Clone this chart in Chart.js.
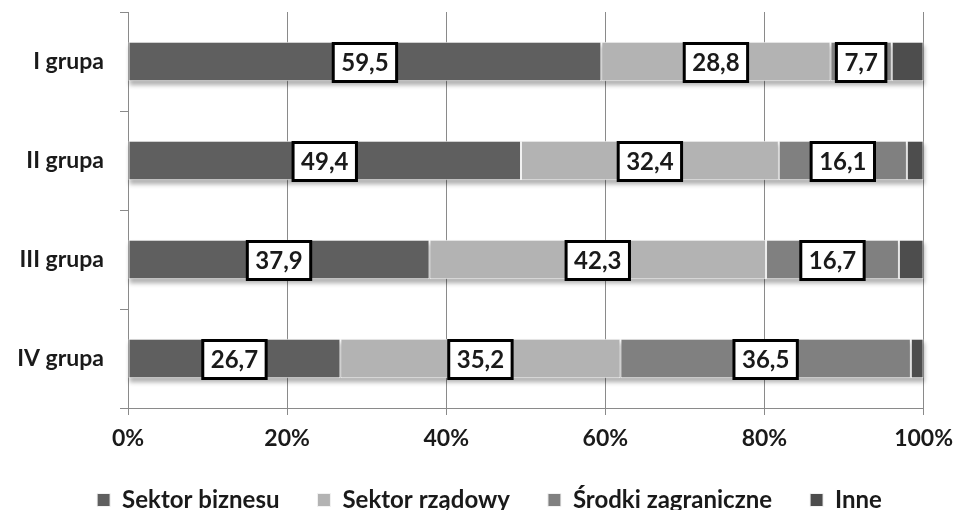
<!DOCTYPE html>
<html>
<head>
<meta charset="utf-8">
<script src="https://cdn.jsdelivr.net/npm/chart.js@4/dist/chart.umd.min.js"></script>
<style>
  html, body { margin: 0; padding: 0; background: #fff; }
  #wrap { width: 963px; height: 510px; position: relative; }
</style>
</head>
<body>
<div id="wrap"><canvas id="c"></canvas></div>
<script>
// Funding structure by group (percent shares)
const categories = ['I grupa', 'II grupa', 'III grupa', 'IV grupa'];
const seriesNames = ['Sektor biznesu', 'Sektor rządowy', 'Środki zagraniczne', 'Inne'];
const sektorBiznesu = [59.5, 49.4, 37.9, 26.7];
const sektorRzadowy = [28.8, 32.4, 42.3, 35.2];
const srodkiZagraniczne = [7.7, 16.1, 16.7, 36.5];
const inne = [4.0, 2.1, 3.1, 1.6];
const labelledSeries = [0, 1, 2];

const seriesColors = ['#5f5f5f', '#b3b3b3', '#808080', '#4d4d4d'];
const FONT = 'Lato, "Open Sans", sans-serif';

const fmt = v => v.toFixed(1).replace('.', ',');

// soft shadow under each whole stacked bar
const barShadow = {
  id: 'barShadow',
  beforeDatasetsDraw(chart) {
    const metas = chart.getSortedVisibleDatasetMetas();
    if (!metas.length) return;
    const ctx = chart.ctx;
    const first = metas[0], last = metas[metas.length - 1];
    first.data.forEach((el, i) => {
      const end = last.data[i];
      const x0 = el.base, x1 = end.x, h = el.height;
      ctx.save();
      ctx.filter = 'blur(2px)';
      ctx.fillStyle = 'rgba(0,0,0,0.30)';
      ctx.fillRect(x0 + 1, el.y - h / 2 + 4, x1 - x0, h);
      ctx.restore();
    });
  }
};

// boxed value labels centred on the segments
const boxedLabels = {
  id: 'boxedLabels',
  afterDatasetsDraw(chart) {
    const ctx = chart.ctx;
    ctx.save();
    ctx.font = 'bold 24px ' + FONT;
    ctx.textAlign = 'center';
    ctx.textBaseline = 'middle';
    labelledSeries.forEach(di => {
      const meta = chart.getDatasetMeta(di);
      const values = chart.data.datasets[di].data;
      meta.data.forEach((el, i) => {
        const txt = fmt(values[i]);
        const cx = (el.x + el.base) / 2;
        const cy = el.y + 1;
        const w = ctx.measureText(txt).width + 16;
        const h = 38;
        ctx.fillStyle = '#ffffff';
        ctx.fillRect(cx - w / 2, cy - h / 2, w, h);
        ctx.lineWidth = 3;
        ctx.strokeStyle = '#000000';
        ctx.strokeRect(cx - w / 2, cy - h / 2, w, h);
        ctx.fillStyle = '#1a1a1a';
        ctx.fillText(txt, cx, cy + 1);
      });
    });
    ctx.restore();
  }
};

// nudge the legend row to sit centred under the plot
const legendOffset = { dx: 24, dy: -8 };
const legendNudge = {
  id: 'legendNudge',
  afterLayout(chart) {
    const lg = chart.legend;
    if (!lg) return;
    lg.left += legendOffset.dx; lg.right += legendOffset.dx;
    lg.top += legendOffset.dy; lg.bottom = chart.height;
  }
};

const seriesData = [sektorBiznesu, sektorRzadowy, srodkiZagraniczne, inne];

new Chart(document.getElementById('c'), {
  type: 'bar',
  data: {
    labels: categories,
    datasets: seriesNames.map((name, k) => ({
      label: name,
      data: seriesData[k],
      backgroundColor: seriesColors[k],
      borderColor: '#f2f2f2',
      borderWidth: 1,
      borderSkipped: false,
      categoryPercentage: 1.0,
      barPercentage: 0.4
    }))
  },
  options: {
    indexAxis: 'y',
    responsive: true,
    maintainAspectRatio: false,
    animation: false,
    layout: { padding: { left: 0, right: 32, top: 12, bottom: 0 } },
    scales: {
      x: {
        stacked: true,
        min: 0, max: 100,
        ticks: {
          stepSize: 20,
          callback: v => v + '%',
          font: { family: FONT, size: 23, weight: 'bold' },
          color: '#1a1a1a',
          padding: 10
        },
        grid: { color: '#8a8a8a', lineWidth: 1, tickLength: 7, drawTicks: true },
        border: { color: '#8a8a8a', width: 1 },
        afterFit(scale) { scale.height = 50; }
      },
      y: {
        stacked: true,
        ticks: {
          font: { family: FONT, size: 23, weight: 'bold' },
          color: '#1a1a1a',
          padding: 16
        },
        grid: { drawOnChartArea: false, offset: true, tickLength: 8, color: '#8a8a8a' },
        border: { color: '#8a8a8a', width: 1 },
        afterFit(scale) {
          scale.width = 128;
          scale.paddingTop = 0;
          scale.paddingBottom = 0;
        }
      }
    },
    plugins: {
      legend: {
        position: 'bottom',
        maxHeight: 52,
        labels: {
          boxWidth: 13,
          boxHeight: 13,
          padding: 38,
          color: '#1a1a1a',
          font: { family: FONT, size: 24, weight: 'bold' }
        }
      },
      tooltip: { enabled: false }
    }
  },
  plugins: [barShadow, boxedLabels, legendNudge]
});
</script>
</body>
</html>
